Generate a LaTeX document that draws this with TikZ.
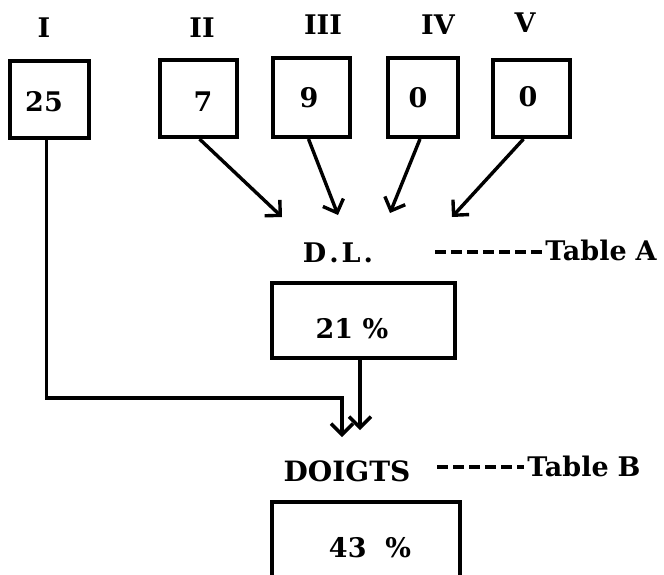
\documentclass[tikz,border=0pt]{standalone}
\usepackage{fontspec}
\setmainfont{DejaVu Serif}
\usetikzlibrary{arrows.meta}
\begin{document}
\begin{tikzpicture}[x=1pt,y=-1pt,
  box/.style={draw,line width=4pt,inner sep=0pt},
  txt/.style={font=\fontsize{27}{30}\selectfont\bfseries,inner sep=0pt},
  bigtxt/.style={font=\fontsize{28}{30}\selectfont\bfseries,inner sep=0pt},
  arr/.style={line width=3.4pt,-{Straight Barb[length=11pt,width=22pt]}},
  lead/.style={line width=3.5pt,dash pattern=on 11pt off 5pt}]
\useasboundingbox (0,0) rectangle (664,574);
% roman labels
\node[txt] (r1) at (44,28) {I};
\node[txt] (r2) at (202,28) {II};
\node[txt] (r3) at (323,25) {III};
\node[txt] (r4) at (438,25) {IV};
\node[txt] (r5) at (525,23) {V};
% top boxes
\node[box,minimum width=79pt,minimum height=77pt] (b1) at (49.5,99) {};
\node[box,minimum width=77pt,minimum height=77pt] (b2) at (198.5,98.5) {};
\node[box,minimum width=77pt,minimum height=79pt] (b3) at (311.5,97.5) {};
\node[box,minimum width=70pt,minimum height=79pt] (b4) at (423,97.5) {};
\node[box,minimum width=77pt,minimum height=77pt] (b5) at (531.5,98.5) {};
\node[txt] (n1) at (44,102) {25};
\node[txt] (n2) at (203,102) {7};
\node[txt] (n3) at (309,98) {9};
\node[txt] (n4) at (418,98) {0};
\node[txt] (n5) at (528,97) {0};
% D.L.
\node[txt] (dl) at (338,253) {D\kern3pt.\kern3pt L\kern3pt.};
\coordinate (t2) at (282,217);
\coordinate (t3) at (338,215);
\coordinate (t4) at (390,213);
\coordinate (t5) at (452,217);
\draw[arr] ([xshift=1pt]b2.south) -- (t2);
\draw[arr] ([xshift=-3pt]b3.south) -- (t3);
\draw[arr] ([xshift=-3pt]b4.south) -- (t4);
\draw[arr] ([xshift=-8pt]b5.south) -- (t5);
\node[txt] (ta) at (601,250) {Table\kern9pt A};
\coordinate (la) at (435,252);
\draw[lead] (la) -- ([xshift=-3pt]ta.west |- la);
% 21 % box
\node[box,minimum width=183pt,minimum height=75pt] (dlbox) at (363.5,320.5) {};
\node[txt] (dlv) at (352,329) {21 \%};
% connections to DOIGTS
\coordinate (c1) at (342,398);
\coordinate (t6) at (342,437);
\coordinate (t7) at (360,430);
\draw[arr] ([xshift=-3pt]b1.south) |- (c1) -- (t6);
\draw[arr] (dlbox.south -| t7) -- (t7);
% DOIGTS
\node[bigtxt] (dg) at (347,471) {DOIGTS};
\node[txt] (tb) at (584,466) {Table\kern9pt B};
\coordinate (lb) at (437,467);
\draw[lead] (lb) -- ([xshift=-3pt]tb.west |- lb);
% 43 % box (its bottom edge lies below the frame)
\node[box,minimum width=188pt,minimum height=80pt] (dgbox) at (366,542) {};
\node[txt] (dgv) at (370,548) {43 \ \%};
\end{tikzpicture}
\end{document}
